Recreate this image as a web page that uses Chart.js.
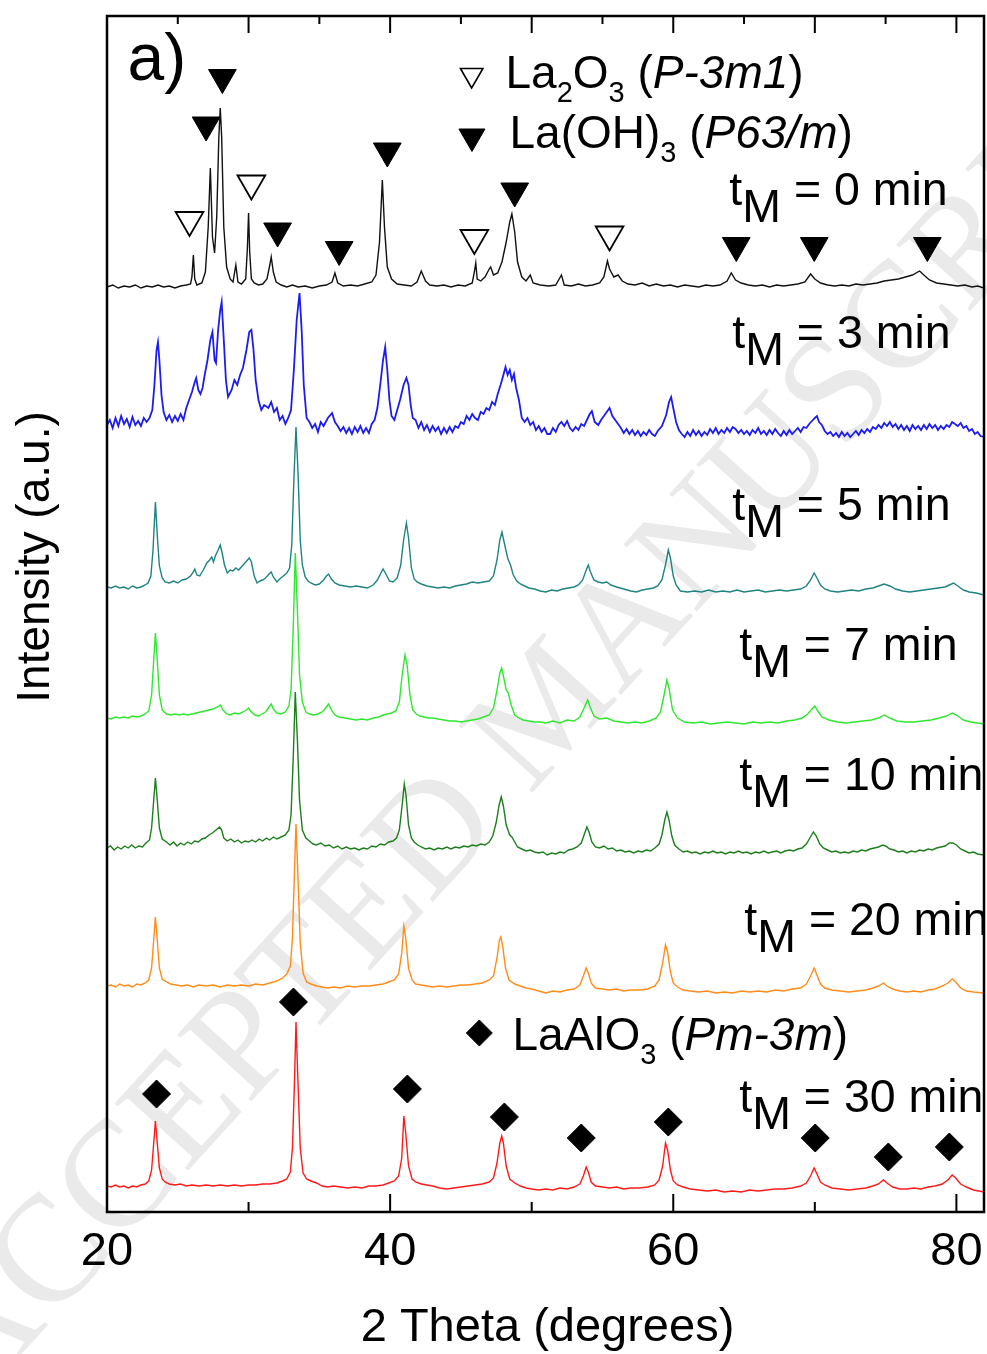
<!DOCTYPE html>
<html>
<head>
<meta charset="utf-8">
<script src="https://cdn.jsdelivr.net/npm/chart.js@4.4.1/dist/chart.umd.min.js"></script>
<style>
html,body{margin:0;padding:0;background:#fff;}
#wrap{position:relative;width:987px;height:1354px;}
</style>
</head>
<body>
<div id="wrap"><canvas id="xrd" width="987" height="1354"></canvas></div>
<script>
// XRD patterns of the milled La/Al precursor, [2θ (deg), intensity above the trace baseline (a.u.)]
const pattern0 = [[20.0,0],[20.4,2],[20.8,-1],[21.2,1],[21.6,0],[22.0,2],[22.4,-1],[22.8,1],[23.2,0],[23.6,2],[24.0,0],[24.4,1],[24.8,-1],[25.2,1],[25.6,2],[25.9,3],[26.0,10],[26.1,32],[26.2,8],[26.35,2],[26.7,4],[26.95,15],[27.15,60],[27.3,119],[27.45,50],[27.6,34],[27.75,70],[27.9,150],[28.0,179],[28.1,150],[28.25,60],[28.45,20],[28.7,8],[28.9,5],[29.1,22],[29.25,5],[29.5,3],[29.8,8],[29.92,40],[30.0,74],[30.08,35],[30.2,8],[30.4,4],[30.7,2],[31.0,3],[31.3,8],[31.5,22],[31.6,30],[31.75,15],[31.95,5],[32.3,2],[32.7,0],[33.1,2],[33.5,0],[34.0,1],[34.5,-1],[35.0,1],[35.5,2],[35.9,5],[36.1,14],[36.3,4],[36.7,1],[37.2,2],[37.7,1],[38.2,3],[38.7,5],[39.0,12],[39.25,45],[39.45,107],[39.6,60],[39.8,20],[40.1,8],[40.5,3],[41.0,2],[41.5,1],[41.9,5],[42.2,16],[42.5,6],[42.8,2],[43.3,1],[43.8,2],[44.3,0],[44.8,2],[45.3,1],[45.8,4],[45.95,15],[46.05,24],[46.15,8],[46.4,6],[46.7,10],[47.0,18],[47.1,20],[47.3,12],[47.6,14],[47.9,25],[48.2,45],[48.45,65],[48.6,73],[48.8,55],[49.0,25],[49.3,10],[49.6,6],[49.9,12],[50.1,4],[50.6,2],[51.2,1],[51.7,2],[52.1,12],[52.3,2],[52.8,1],[53.3,3],[53.8,1],[54.3,2],[54.8,4],[55.1,10],[55.35,26],[55.5,18],[55.8,10],[56.1,12],[56.4,6],[56.8,3],[57.3,2],[57.8,4],[58.3,1],[58.8,3],[59.3,1],[59.8,2],[60.3,0],[60.8,2],[61.3,1],[61.8,0],[62.3,2],[62.8,1],[63.3,2],[63.8,6],[64.1,14],[64.4,7],[64.8,4],[65.3,2],[65.8,1],[66.3,2],[66.8,0],[67.3,2],[67.8,1],[68.3,2],[68.8,3],[69.3,5],[69.7,13],[70.0,8],[70.4,4],[70.9,2],[71.4,1],[71.9,2],[72.4,1],[72.9,3],[73.4,2],[73.9,3],[74.4,4],[74.9,6],[75.4,7],[75.9,8],[76.4,10],[76.9,12],[77.4,16],[77.7,12],[78.1,7],[78.6,4],[79.1,3],[79.6,2],[80.1,1],[80.6,2],[81.1,0],[81.5,1],[81.95,-1]];

const pattern3 = [[20.0,5],[20.2,10],[20.4,2],[20.6,12],[20.8,4],[21.0,14],[21.2,6],[21.4,11],[21.6,3],[21.8,13],[22.0,5],[22.2,9],[22.4,4],[22.6,12],[22.8,8],[23.0,12],[23.2,20],[23.35,45],[23.5,80],[23.6,88],[23.7,70],[23.85,35],[24.0,18],[24.2,10],[24.4,15],[24.6,8],[24.8,14],[25.0,9],[25.2,16],[25.4,10],[25.6,22],[25.8,30],[26.0,38],[26.2,48],[26.3,52],[26.45,40],[26.6,36],[26.75,42],[26.9,55],[27.1,70],[27.3,90],[27.45,98],[27.6,70],[27.7,67],[27.85,100],[28.0,120],[28.1,128],[28.25,90],[28.4,50],[28.55,33],[28.8,40],[29.0,50],[29.2,45],[29.4,55],[29.6,62],[29.85,80],[30.05,98],[30.2,100],[30.35,80],[30.5,50],[30.7,30],[30.9,20],[31.1,25],[31.4,22],[31.6,28],[31.8,18],[32.0,22],[32.2,10],[32.4,14],[32.6,6],[32.8,12],[33.0,20],[33.2,60],[33.4,110],[33.6,137],[33.75,100],[33.9,45],[34.1,12],[34.3,8],[34.5,2],[34.7,6],[34.9,-2],[35.1,8],[35.3,4],[35.6,12],[35.9,17],[36.1,8],[36.3,4],[36.5,-1],[36.7,3],[36.9,-3],[37.1,2],[37.3,-4],[37.5,3],[37.7,-2],[37.9,4],[38.1,-3],[38.3,2],[38.5,-3],[38.7,6],[38.9,10],[39.1,22],[39.3,45],[39.5,70],[39.65,83],[39.8,60],[39.95,30],[40.1,14],[40.3,10],[40.5,20],[40.7,30],[40.95,45],[41.15,52],[41.3,45],[41.45,25],[41.6,12],[41.8,10],[42.0,2],[42.2,8],[42.4,0],[42.6,5],[42.8,-2],[43.0,4],[43.2,-1],[43.4,3],[43.6,-4],[43.8,2],[44.0,-3],[44.2,3],[44.4,-2],[44.6,4],[44.8,2],[45.0,8],[45.2,6],[45.4,14],[45.6,10],[45.8,16],[46.0,12],[46.2,10],[46.4,18],[46.6,16],[46.8,22],[47.0,20],[47.2,28],[47.4,25],[47.6,36],[47.8,45],[48.0,55],[48.15,63],[48.3,55],[48.45,60],[48.6,50],[48.75,56],[48.9,42],[49.1,30],[49.3,12],[49.5,8],[49.7,12],[49.9,5],[50.1,8],[50.3,0],[50.5,4],[50.7,-2],[50.9,2],[51.1,-4],[51.3,-4],[51.5,2],[51.7,-2],[51.9,5],[52.1,8],[52.3,4],[52.5,9],[52.7,2],[52.9,-1],[53.1,3],[53.3,0],[53.5,6],[53.7,4],[53.9,10],[54.1,16],[54.25,19],[54.45,8],[54.7,5],[54.9,10],[55.1,14],[55.3,18],[55.5,22],[55.7,14],[55.9,10],[56.1,6],[56.3,2],[56.5,-3],[56.7,1],[56.9,-4],[57.1,0],[57.3,-5],[57.5,-1],[57.7,-6],[57.9,-2],[58.1,-5],[58.3,0],[58.5,-4],[58.7,-6],[58.9,-1],[59.2,4],[59.5,15],[59.7,28],[59.85,33],[60.0,22],[60.2,8],[60.4,0],[60.6,-4],[60.8,-7],[61.0,-2],[61.2,-6],[61.4,0],[61.6,-5],[61.8,-1],[62.0,-6],[62.2,-2],[62.4,-5],[62.6,1],[62.8,-3],[63.0,2],[63.2,-4],[63.4,0],[63.6,-3],[63.8,2],[64.0,-2],[64.2,3],[64.4,1],[64.6,-3],[64.8,0],[65.0,-4],[65.2,-1],[65.4,-5],[65.6,0],[65.8,-3],[66.0,2],[66.2,-4],[66.4,-1],[66.6,-5],[66.8,0],[67.0,-4],[67.2,1],[67.4,-3],[67.6,-6],[67.8,-1],[68.0,-5],[68.2,0],[68.4,-4],[68.6,-1],[68.8,2],[69.0,-2],[69.2,3],[69.4,2],[69.6,6],[69.8,9],[70.0,12],[70.15,14],[70.3,8],[70.5,5],[70.7,-1],[70.9,-4],[71.1,-2],[71.3,-6],[71.5,-3],[71.7,-7],[71.9,-2],[72.1,-6],[72.3,-3],[72.5,-7],[72.7,-4],[72.9,-1],[73.1,-5],[73.3,0],[73.5,-3],[73.7,1],[73.9,-2],[74.1,3],[74.3,1],[74.5,5],[74.7,2],[74.9,7],[75.1,4],[75.3,8],[75.5,3],[75.7,6],[75.9,1],[76.1,5],[76.3,0],[76.5,4],[76.7,-1],[76.9,5],[77.1,1],[77.3,4],[77.5,0],[77.7,5],[77.9,1],[78.1,6],[78.3,2],[78.5,5],[78.7,0],[78.9,4],[79.1,1],[79.3,5],[79.5,3],[79.7,8],[79.9,6],[80.1,4],[80.3,7],[80.5,2],[80.7,4],[80.9,-1],[81.1,1],[81.3,-4],[81.5,-2],[81.7,-6],[81.95,-7]];

const pattern5 = [[20.0,3],[20.3,2],[20.6,4],[20.9,2],[21.2,3],[21.5,1],[21.8,4],[22.1,2],[22.4,3],[22.7,5],[22.9,7],[23.1,14],[23.25,40],[23.42,88],[23.55,55],[23.7,24],[23.9,12],[24.1,8],[24.4,7],[24.7,9],[25.0,7],[25.3,10],[25.6,11],[25.9,14],[26.1,18],[26.2,21],[26.35,15],[26.55,14],[26.8,20],[27.05,27],[27.25,30],[27.4,33],[27.52,28],[27.65,34],[27.85,40],[28.0,45],[28.12,38],[28.3,25],[28.5,17],[28.7,20],[28.9,19],[29.1,22],[29.3,20],[29.55,24],[29.8,28],[30.05,32],[30.2,28],[30.4,14],[30.6,7],[30.8,9],[31.0,10],[31.2,12],[31.45,16],[31.6,18],[31.75,13],[32.0,8],[32.2,11],[32.45,14],[32.7,17],[32.9,22],[33.05,45],[33.2,110],[33.35,163],[33.5,115],[33.65,50],[33.8,25],[34.0,13],[34.2,9],[34.4,7],[34.7,5],[35.0,6],[35.3,10],[35.5,14],[35.65,16],[35.85,11],[36.1,7],[36.4,5],[36.8,4],[37.2,3],[37.6,4],[38.0,3],[38.4,2],[38.8,5],[39.1,10],[39.35,17],[39.5,21],[39.7,16],[39.95,9],[40.2,8],[40.5,12],[40.75,25],[40.95,50],[41.15,67],[41.3,52],[41.5,22],[41.7,11],[41.9,8],[42.2,6],[42.6,4],[43.0,3],[43.4,2],[43.8,3],[44.2,2],[44.6,4],[45.0,5],[45.4,6],[45.8,8],[46.2,7],[46.6,8],[47.0,9],[47.3,14],[47.55,30],[47.75,50],[47.9,58],[48.05,48],[48.3,32],[48.5,25],[48.7,15],[48.95,9],[49.2,6],[49.5,4],[49.8,2],[50.2,1],[50.6,-1],[51.0,-2],[51.4,0],[51.8,-1],[52.2,1],[52.6,2],[53.0,3],[53.3,5],[53.6,10],[53.85,20],[54.0,25],[54.15,18],[54.4,10],[54.7,8],[55.0,7],[55.3,8],[55.6,5],[56.0,3],[56.5,1],[57.0,-1],[57.4,-2],[57.8,0],[58.2,1],[58.6,2],[58.9,4],[59.2,10],[59.45,25],[59.65,40],[59.8,32],[60.0,14],[60.2,5],[60.5,-1],[61.0,-2],[61.5,-1],[62.0,-2],[62.5,0],[63.0,-2],[63.5,-1],[64.0,-2],[64.5,0],[65.0,-2],[65.5,-1],[66.0,0],[66.5,-2],[67.0,-1],[67.5,0],[68.0,-1],[68.5,0],[69.0,1],[69.4,4],[69.7,10],[69.95,17],[70.15,12],[70.4,5],[70.7,1],[71.1,-1],[71.6,-2],[72.1,-1],[72.6,0],[73.1,-1],[73.6,1],[74.1,2],[74.5,4],[74.9,6],[75.3,4],[75.7,1],[76.2,-1],[76.7,-2],[77.2,-1],[77.7,0],[78.2,1],[78.7,2],[79.2,3],[79.5,5],[79.8,7],[80.1,4],[80.5,0],[80.9,-2],[81.4,-3],[81.95,-5]];

const pattern7 = [[20.0,2],[20.3,1],[20.6,3],[20.9,2],[21.2,3],[21.5,2],[21.8,4],[22.1,3],[22.4,4],[22.7,6],[22.95,9],[23.15,25],[23.3,60],[23.42,87],[23.55,60],[23.7,25],[23.9,10],[24.2,6],[24.5,5],[24.8,6],[25.1,5],[25.4,6],[25.7,5],[26.0,6],[26.3,7],[26.6,8],[26.9,9],[27.2,10],[27.5,11],[27.8,13],[28.0,15],[28.2,10],[28.45,6],[28.7,5],[29.0,7],[29.3,6],[29.6,8],[29.85,10],[30.0,12],[30.2,8],[30.45,5],[30.7,4],[30.95,6],[31.2,8],[31.45,13],[31.6,16],[31.75,11],[32.0,7],[32.3,6],[32.6,8],[32.85,14],[33.0,30],[33.15,90],[33.3,167],[33.45,110],[33.6,45],[33.8,18],[34.05,8],[34.3,6],[34.6,5],[34.9,6],[35.2,8],[35.45,12],[35.65,16],[35.85,10],[36.1,5],[36.4,3],[36.8,2],[37.2,1],[37.6,0],[38.0,1],[38.4,0],[38.8,2],[39.2,3],[39.5,5],[39.8,6],[40.1,7],[40.4,9],[40.65,18],[40.85,45],[41.05,65],[41.2,55],[41.4,25],[41.6,10],[41.85,6],[42.1,4],[42.4,3],[42.7,2],[43.0,2],[43.4,1],[43.8,0],[44.2,-1],[44.6,-1],[45.0,-2],[45.4,-1],[45.8,0],[46.2,1],[46.6,3],[47.0,5],[47.3,12],[47.55,30],[47.75,47],[47.88,52],[48.0,44],[48.2,30],[48.35,27],[48.55,15],[48.8,5],[49.1,2],[49.4,0],[49.8,-1],[50.2,-2],[50.6,-2],[51.0,-3],[51.5,-1],[52.0,-3],[52.5,0],[53.0,-1],[53.4,3],[53.7,12],[53.95,20],[54.15,12],[54.4,4],[54.8,1],[55.3,2],[55.8,-1],[56.3,-2],[56.8,-3],[57.3,-2],[57.8,-3],[58.3,-1],[58.8,2],[59.1,8],[59.35,25],[59.55,40],[59.72,30],[59.95,10],[60.3,2],[60.8,-2],[61.4,-3],[62.0,-2],[62.6,-4],[63.2,-3],[63.8,-2],[64.4,-3],[65.0,-4],[65.6,-2],[66.2,-3],[66.8,-2],[67.4,-3],[68.0,-1],[68.6,0],[69.1,2],[69.5,6],[69.8,11],[70.0,14],[70.2,9],[70.5,3],[71.0,0],[71.6,-2],[72.2,-3],[72.8,-2],[73.4,-1],[74.0,0],[74.5,2],[74.9,5],[75.3,2],[75.8,-1],[76.4,-2],[77.0,-2],[77.6,-1],[78.2,0],[78.8,2],[79.3,4],[79.7,7],[80.0,5],[80.5,0],[81.0,-2],[81.5,-3],[81.95,-4]];

const pattern10 = [[20.0,2],[20.25,4],[20.5,0],[20.75,3],[21.0,1],[21.25,4],[21.5,2],[21.75,5],[22.0,2],[22.25,4],[22.5,3],[22.75,7],[23.0,10],[23.15,22],[23.3,50],[23.42,72],[23.55,50],[23.7,22],[23.9,11],[24.2,8],[24.45,5],[24.7,8],[24.95,4],[25.2,7],[25.45,5],[25.7,8],[25.95,6],[26.2,9],[26.45,8],[26.7,11],[26.95,12],[27.2,15],[27.45,17],[27.7,20],[27.95,23],[28.1,20],[28.25,12],[28.5,9],[28.75,11],[29.0,8],[29.25,10],[29.5,7],[29.75,9],[30.0,8],[30.25,10],[30.5,8],[30.75,11],[31.0,9],[31.25,12],[31.5,10],[31.75,13],[32.0,11],[32.3,13],[32.6,15],[32.85,20],[33.0,35],[33.15,90],[33.3,158],[33.45,110],[33.6,50],[33.8,20],[34.05,12],[34.3,9],[34.55,6],[34.8,5],[35.1,7],[35.4,4],[35.7,5],[36.0,2],[36.3,4],[36.6,1],[36.9,3],[37.2,1],[37.5,2],[37.8,0],[38.1,2],[38.4,1],[38.7,4],[39.0,3],[39.3,6],[39.6,5],[39.9,8],[40.2,9],[40.45,12],[40.65,20],[40.85,45],[41.0,66],[41.12,55],[41.3,25],[41.5,12],[41.7,8],[41.95,5],[42.2,3],[42.5,1],[42.8,2],[43.1,0],[43.4,2],[43.7,1],[44.0,3],[44.3,1],[44.6,3],[44.9,2],[45.2,4],[45.5,3],[45.8,5],[46.1,4],[46.4,6],[46.7,5],[47.0,8],[47.25,14],[47.5,28],[47.7,45],[47.85,53],[48.0,44],[48.2,25],[48.45,15],[48.6,13],[48.8,8],[49.0,3],[49.3,1],[49.6,-1],[49.9,0],[50.2,-2],[50.5,-3],[50.8,-2],[51.1,-5],[51.4,-3],[51.7,-4],[52.0,-2],[52.3,-3],[52.6,0],[52.9,1],[53.2,3],[53.5,7],[53.7,15],[53.9,23],[54.05,18],[54.25,8],[54.5,3],[54.8,2],[55.1,4],[55.4,1],[55.7,2],[56.0,-1],[56.3,0],[56.6,-2],[56.9,-1],[57.2,-3],[57.5,-1],[57.8,-2],[58.1,0],[58.4,-1],[58.7,2],[59.0,6],[59.2,15],[59.4,30],[59.55,38],[59.7,30],[59.9,14],[60.1,5],[60.4,1],[60.7,-2],[61.0,-1],[61.3,-3],[61.6,-2],[61.9,-4],[62.2,-2],[62.5,-3],[62.8,-1],[63.1,-3],[63.4,-2],[63.7,-4],[64.0,-2],[64.3,-3],[64.6,-1],[64.9,-3],[65.2,-2],[65.5,-4],[65.8,-2],[66.1,-3],[66.4,-1],[66.7,-3],[67.0,-2],[67.3,-1],[67.6,-3],[67.9,-1],[68.2,0],[68.5,-1],[68.8,1],[69.1,2],[69.4,6],[69.65,12],[69.9,18],[70.1,14],[70.35,6],[70.6,2],[70.9,0],[71.2,-2],[71.5,-1],[71.8,-3],[72.1,-2],[72.4,-3],[72.7,-1],[73.0,-2],[73.3,0],[73.6,-1],[73.9,1],[74.2,2],[74.5,3],[74.8,5],[75.0,4],[75.3,1],[75.6,0],[75.9,-2],[76.2,-1],[76.5,-3],[76.8,-1],[77.1,-2],[77.4,0],[77.7,-1],[78.0,1],[78.3,0],[78.6,2],[78.9,3],[79.2,4],[79.5,7],[79.75,7],[80.0,5],[80.3,1],[80.6,-1],[80.9,-3],[81.2,-2],[81.5,-4],[81.95,-5]];

const pattern20 = [[20.0,2],[20.3,3],[20.6,1],[20.9,4],[21.2,2],[21.5,3],[21.8,1],[22.1,4],[22.4,3],[22.7,5],[22.95,8],[23.15,20],[23.3,48],[23.42,71],[23.55,48],[23.7,20],[23.9,9],[24.2,6],[24.5,4],[24.9,3],[25.3,2],[25.7,3],[26.1,1],[26.5,3],[27.0,2],[27.5,3],[28.0,1],[28.5,3],[29.0,2],[29.5,3],[30.0,2],[30.5,4],[31.0,3],[31.5,5],[32.0,7],[32.4,10],[32.7,14],[32.95,22],[33.1,50],[33.25,120],[33.35,164],[33.48,115],[33.65,45],[33.85,15],[34.1,6],[34.4,4],[34.8,2],[35.2,1],[35.6,0],[36.0,1],[36.5,0],[37.0,2],[37.5,1],[38.0,2],[38.5,2],[39.0,3],[39.5,4],[39.9,6],[40.3,8],[40.6,14],[40.82,35],[40.97,62],[41.1,50],[41.3,20],[41.55,8],[41.8,4],[42.2,3],[42.6,2],[43.0,1],[43.5,2],[44.0,1],[44.5,2],[45.0,3],[45.5,3],[46.0,4],[46.5,5],[47.0,8],[47.3,12],[47.55,30],[47.72,48],[47.82,51],[47.95,42],[48.15,20],[48.4,8],[48.8,4],[49.2,2],[49.6,0],[50.0,-1],[50.5,-3],[51.0,-5],[51.5,-3],[52.0,-4],[52.5,-2],[53.0,-1],[53.4,3],[53.65,12],[53.85,20],[54.0,15],[54.2,5],[54.5,0],[55.0,-1],[55.5,-2],[56.0,-1],[56.5,-3],[57.0,-2],[57.6,-2],[58.2,-1],[58.7,2],[59.0,8],[59.25,25],[59.45,43],[59.6,36],[59.8,16],[60.0,5],[60.3,1],[60.7,-2],[61.2,-3],[61.8,-4],[62.4,-3],[63.0,-5],[63.6,-4],[64.2,-5],[64.8,-3],[65.4,-4],[66.0,-3],[66.6,-4],[67.2,-2],[67.8,-3],[68.4,-1],[69.0,0],[69.4,4],[69.7,12],[69.95,20],[70.15,13],[70.4,4],[70.7,0],[71.2,-2],[71.8,-3],[72.4,-4],[73.0,-3],[73.6,-2],[74.1,0],[74.5,2],[74.85,5],[75.1,2],[75.5,-1],[76.0,-3],[76.5,-4],[77.0,-3],[77.5,-4],[78.0,-2],[78.5,-1],[79.0,2],[79.4,5],[79.7,9],[79.95,6],[80.3,0],[80.7,-3],[81.2,-4],[81.95,-5]];

const pattern30 = [[20.0,2],[20.3,1],[20.6,3],[20.9,1],[21.2,2],[21.5,0],[21.8,2],[22.1,1],[22.4,3],[22.7,4],[22.95,7],[23.15,18],[23.3,45],[23.42,67],[23.55,45],[23.7,20],[23.9,9],[24.1,6],[24.4,4],[24.8,3],[25.2,4],[25.6,2],[26.0,3],[26.5,2],[27.0,3],[27.5,2],[28.0,3],[28.5,2],[29.0,3],[29.5,2],[30.0,3],[30.5,3],[31.0,4],[31.5,4],[32.0,5],[32.4,7],[32.7,9],[32.95,16],[33.1,40],[33.25,110],[33.35,166],[33.48,110],[33.65,40],[33.85,15],[34.1,9],[34.4,7],[34.8,5],[35.2,2],[35.6,1],[36.0,2],[36.5,1],[37.0,0],[37.5,1],[38.0,0],[38.5,2],[39.0,2],[39.5,3],[39.9,5],[40.3,7],[40.6,12],[40.82,30],[40.97,72],[41.1,55],[41.3,22],[41.55,9],[41.8,6],[42.2,4],[42.6,3],[43.0,2],[43.5,0],[44.0,-1],[44.5,0],[45.0,1],[45.5,2],[46.0,3],[46.5,4],[47.0,6],[47.3,10],[47.55,25],[47.75,45],[47.88,52],[48.0,45],[48.2,22],[48.45,9],[48.8,5],[49.2,2],[49.6,0],[50.0,-1],[50.5,-2],[51.0,-1],[51.5,-2],[52.0,0],[52.5,-1],[53.0,1],[53.4,4],[53.65,12],[53.85,21],[54.0,16],[54.2,6],[54.5,2],[55.0,1],[55.5,0],[56.0,1],[56.5,-1],[57.0,0],[57.6,0],[58.2,1],[58.7,3],[59.0,8],[59.25,22],[59.45,45],[59.6,38],[59.8,18],[60.0,7],[60.3,3],[60.7,1],[61.2,-1],[61.8,-2],[62.4,-3],[63.0,-2],[63.6,-4],[64.2,-3],[64.8,-4],[65.4,-2],[66.0,-3],[66.6,-2],[67.2,-1],[67.8,-1],[68.4,0],[69.0,2],[69.4,5],[69.7,12],[69.95,20],[70.15,14],[70.4,6],[70.7,3],[71.2,0],[71.8,-1],[72.4,-2],[73.0,-1],[73.6,0],[74.1,2],[74.5,4],[74.85,8],[75.1,5],[75.5,1],[76.0,-1],[76.5,-1],[77.0,0],[77.5,-1],[78.0,1],[78.5,2],[79.0,4],[79.4,8],[79.7,13],[79.95,10],[80.3,4],[80.7,1],[81.2,-2],[81.95,-4]];

// milling times, vertical offsets of the stacked traces and their colours
const millingTimes = ['0', '3', '5', '7', '10', '20', '30'];
const offsets = [925, 782, 622, 492, 362, 224, 24];
const traceColors = ['#111111', '#1c1cf0', '#1f8383', '#2ee82e', '#1c7f1c', '#ff8c1a', '#ff1a1a'];

// reflection markers [2θ, stacked intensity]
const la2o3Marks = [[25.83, 992], [30.2, 1028.5], [45.95, 974], [55.5, 977.5]];
const laoh3Marks = [[27.0, 1087], [28.15, 1134.5], [32.05, 981], [36.4, 962.5], [39.8, 1061], [48.8, 1021], [64.45, 966.5], [69.96, 966.5], [77.95, 966.5]];
const laalo3Marks = [[23.5, 118], [33.17, 210], [41.22, 123], [48.07, 95], [53.5, 74], [59.65, 90], [70.03, 74], [75.19, 55], [79.5, 65]];
const legendOpenMark = [[45.76, 1137]];
const legendFilledMark = [[45.78, 1075.5]];
const legendDiamondMark = [[46.3, 179]];

// label anchors [2θ, stacked intensity]
const timeLabelAnchors = [[63.96, 1007], [64.17, 864], [64.17, 692], [64.66, 552], [64.66, 422], [65.02, 277], [64.66, 100]];
const la2o3LabelAnchor = [48.15, 1124];
const laoh3LabelAnchor = [48.43, 1064];
const laalo3LabelAnchor = [48.64, 162];
const panelLabelAnchor = [21.45, 1132];

// axis ticks
const xMin = 20, xMax = 81.95;
const bottomMajorTicks = [20, 40, 60, 80];
const bottomMinorTicks = [30, 50, 70];
const topMajorTicks = [30, 40, 50, 60, 70, 80];
const topMinorTicks = [25, 35, 45, 55, 65, 75];

const FONT = '"Liberation Sans", Arial, Helvetica, sans-serif';

const toXY = (pairs, off) => pairs.map(([a, v]) => ({x: a, y: v + (off || 0)}));

const patterns = [pattern0, pattern3, pattern5, pattern7, pattern10, pattern20, pattern30];

const traceSets = patterns.map((p, i) => ({
  label: 'tM = ' + millingTimes[i] + ' min',
  data: toXY(p, offsets[i]),
  showLine: true,
  borderColor: traceColors[i],
  borderWidth: i === 1 ? 1.8 : 1.4,
  pointRadius: 0,
  tension: 0,
  fill: false,
  order: 5
}));

const markerSets = [
  {label: 'La2O3', data: toXY(la2o3Marks), pointStyle: 'triangle', rotation: 180, pointRadius: 16,
   backgroundColor: '#ffffff', borderColor: '#000000', borderWidth: 1.8, order: 1},
  {label: 'La(OH)3', data: toXY(laoh3Marks), pointStyle: 'triangle', rotation: 180, pointRadius: 16,
   backgroundColor: '#000000', borderColor: '#000000', borderWidth: 1, order: 1},
  {label: 'LaAlO3', data: toXY(laalo3Marks), pointStyle: 'rectRot', pointRadius: 14,
   backgroundColor: '#000000', borderColor: '#000000', borderWidth: 1, order: 1},
  {label: 'key La2O3', data: toXY(legendOpenMark), pointStyle: 'triangle', rotation: 180, pointRadius: 13,
   backgroundColor: '#ffffff', borderColor: '#000000', borderWidth: 1.6, order: 1},
  {label: 'key La(OH)3', data: toXY(legendFilledMark), pointStyle: 'triangle', rotation: 180, pointRadius: 15,
   backgroundColor: '#000000', borderColor: '#000000', borderWidth: 1, order: 1},
  {label: 'key LaAlO3', data: toXY(legendDiamondMark), pointStyle: 'rectRot', pointRadius: 13,
   backgroundColor: '#000000', borderColor: '#000000', borderWidth: 1, order: 1}
].map(d => Object.assign({showLine: false, pointHoverRadius: d.pointRadius}, d));

// rich text pieces: sub = subscript, low = lowered full-size glyph, it = italic
const la2o3Text = [{t: 'La'}, {t: '2', sub: 1}, {t: 'O'}, {t: '3', sub: 1}, {t: ' ('}, {t: 'P-3m1', it: 1}, {t: ')'}];
const laoh3Text = [{t: 'La(OH)'}, {t: '3', sub: 1}, {t: ' ('}, {t: 'P63/m', it: 1}, {t: ')'}];
const laalo3Text = [{t: 'LaAlO'}, {t: '3', sub: 1}, {t: ' ('}, {t: 'Pm-3m', it: 1}, {t: ')'}];
const timeText = m => [{t: 't'}, {t: 'M', low: 1}, {t: ' = ' + m + ' min'}];

function drawRich(ctx, parts, x, y, size) {
  let cx = x;
  ctx.textBaseline = 'alphabetic';
  ctx.textAlign = 'left';
  for (const p of parts) {
    const fs = p.sub ? Math.round(size * 0.64) : size;
    ctx.font = (p.it ? 'italic ' : '') + fs + 'px ' + FONT;
    const dy = p.sub ? size * 0.3 : (p.low ? size * 0.37 : 0);
    ctx.fillText(p.t, cx, y + dy);
    cx += ctx.measureText(p.t).width;
  }
}

const decorations = {
  id: 'decorations',
  beforeDraw(chart) {
    const ctx = chart.ctx;
    ctx.save();
    ctx.fillStyle = '#ffffff';
    ctx.fillRect(0, 0, chart.width, chart.height);
    // publisher watermark
    ctx.translate(-25, 1405);
    ctx.rotate(-47.7 * Math.PI / 180);
    ctx.font = '152px "Liberation Serif", "DejaVu Serif", serif';
    ctx.fillStyle = '#eaeaea';
    ctx.textBaseline = 'alphabetic';
    ctx.fillText('ACCEPTED MANUSCRIPT', 0, 0);
    ctx.restore();
  },
  afterDraw(chart) {
    const {ctx, chartArea: a, scales: {x, y}} = chart;
    const px = v => x.getPixelForValue(v);
    const py = v => y.getPixelForValue(v);
    ctx.save();
    ctx.fillStyle = '#000';

    // annotations inside the plot, clipped by the frame
    ctx.save();
    ctx.beginPath();
    ctx.rect(a.left, a.top, a.right - a.left, a.bottom - a.top);
    ctx.clip();
    ctx.font = '66px ' + FONT;
    ctx.textBaseline = 'alphabetic';
    ctx.fillText('a)', px(panelLabelAnchor[0]), py(panelLabelAnchor[1]));
    drawRich(ctx, la2o3Text, px(la2o3LabelAnchor[0]), py(la2o3LabelAnchor[1]), 46);
    drawRich(ctx, laoh3Text, px(laoh3LabelAnchor[0]), py(laoh3LabelAnchor[1]), 46);
    drawRich(ctx, laalo3Text, px(laalo3LabelAnchor[0]), py(laalo3LabelAnchor[1]), 46);
    timeLabelAnchors.forEach(([ang, val], i) => {
      drawRich(ctx, timeText(millingTimes[i]), px(ang), py(val), 46.5);
    });
    ctx.restore();

    // frame
    ctx.strokeStyle = '#000';
    ctx.lineWidth = 2.5;
    ctx.strokeRect(a.left, a.top, a.right - a.left, a.bottom - a.top);

    // ticks pointing inward
    ctx.lineWidth = 2;
    ctx.beginPath();
    bottomMajorTicks.forEach(t => { ctx.moveTo(px(t), a.bottom); ctx.lineTo(px(t), a.bottom - 18); });
    bottomMinorTicks.forEach(t => { ctx.moveTo(px(t), a.bottom); ctx.lineTo(px(t), a.bottom - 10); });
    topMajorTicks.forEach(t => { ctx.moveTo(px(t), a.top); ctx.lineTo(px(t), a.top + 17); });
    topMinorTicks.forEach(t => { ctx.moveTo(px(t), a.top); ctx.lineTo(px(t), a.top + 8); });
    ctx.stroke();

    // tick labels
    ctx.font = '47px ' + FONT;
    ctx.textAlign = 'center';
    ctx.textBaseline = 'middle';
    bottomMajorTicks.forEach(t => ctx.fillText(String(t), px(t), a.bottom + 40));

    // axis titles
    ctx.fillText('2 Theta (degrees)', (a.left + a.right) / 2 + 2, a.bottom + 116);
    ctx.save();
    ctx.translate(36, (a.top + a.bottom) / 2 - 57);
    ctx.rotate(-Math.PI / 2);
    ctx.font = '46px ' + FONT;
    ctx.fillText('Intensity (a.u.)', 0, 0);
    ctx.restore();

    ctx.restore();
  }
};

new Chart(document.getElementById('xrd'), {
  type: 'scatter',
  data: {datasets: traceSets.concat(markerSets)},
  options: {
    responsive: false,
    animation: false,
    devicePixelRatio: 1,
    layout: {autoPadding: false, padding: {left: 107, right: 3, top: 16, bottom: 142}},
    plugins: {legend: {display: false}, tooltip: {enabled: false}},
    scales: {
      x: {type: 'linear', min: xMin, max: xMax, display: false},
      y: {type: 'linear', min: 0, max: 1196, display: false}
    }
  },
  plugins: [decorations]
});
</script>
</body>
</html>
